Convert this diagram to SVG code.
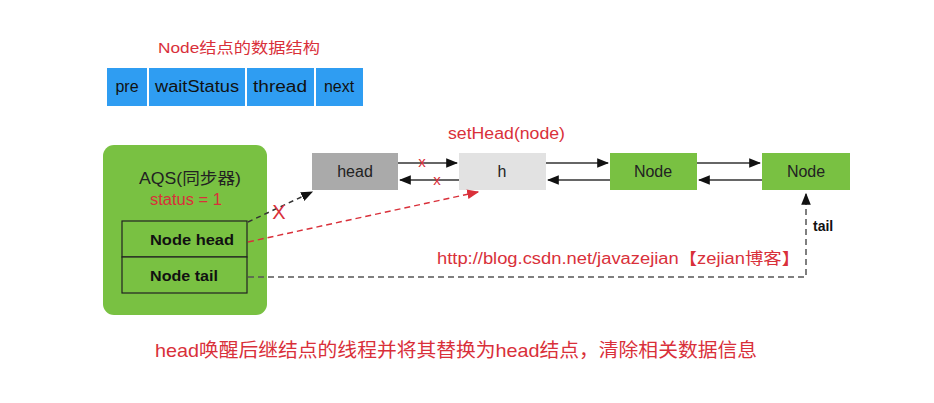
<svg xmlns="http://www.w3.org/2000/svg" width="934" height="403" viewBox="0 0 934 403">
<style>
text{font-family:"Liberation Sans","Noto Sans CJK SC",sans-serif}
.cell{fill:#2f9df2}
.ct{font-size:16px;fill:#111;text-anchor:middle}
.red{fill:#d9303a}
.nt{font-size:16px;fill:#222;text-anchor:middle}
.ln{stroke:#333;stroke-width:1.5;fill:none}
</style>
<defs>
<marker id="a" viewBox="0 0 10 10" refX="9" refY="5" markerWidth="8" markerHeight="8" orient="auto-start-reverse"><path d="M0,1 L10,5 L0,9 z" fill="#111"/></marker>
<marker id="ar" viewBox="0 0 10 10" refX="9" refY="5" markerWidth="8" markerHeight="8" orient="auto"><path d="M0,1 L10,5 L0,9 z" fill="#d9303a"/></marker>
</defs>
<rect width="934" height="403" fill="#fff"/>
<text x="158" y="53" font-size="15" textLength="162" lengthAdjust="spacingAndGlyphs" class="red">Node结点的数据结构</text>
<g id="struct">
<rect class="cell" x="107" y="68" width="40" height="38"/>
<rect class="cell" x="149" y="68" width="96" height="38"/>
<rect class="cell" x="247" y="68" width="67" height="38"/>
<rect class="cell" x="316" y="68" width="47" height="38"/>
<text class="ct" x="127" y="92">pre</text>
<text class="ct" x="197" y="92" textLength="84" lengthAdjust="spacingAndGlyphs">waitStatus</text>
<text class="ct" x="280" y="92" textLength="54" lengthAdjust="spacingAndGlyphs">thread</text>
<text class="ct" x="339" y="92">next</text>
</g>
<g id="aqs">
<rect x="103" y="145" width="164" height="170" rx="11" fill="#79c142"/>
<text x="139" y="184" font-size="16" textLength="102" lengthAdjust="spacingAndGlyphs" fill="#222">AQS(同步器)</text>
<text x="150" y="205" font-size="16" textLength="72" lengthAdjust="spacingAndGlyphs" class="red">status = 1</text>
<rect x="122" y="221" width="125" height="36" fill="#79c142" stroke="#222" stroke-width="1.2"/>
<rect x="122" y="257" width="125" height="36" fill="#79c142" stroke="#222" stroke-width="1.2"/>
<text x="150" y="245" font-size="15" font-weight="bold" fill="#111" textLength="84" lengthAdjust="spacingAndGlyphs">Node head</text>
<text x="150" y="281" font-size="15" font-weight="bold" fill="#111" textLength="68" lengthAdjust="spacingAndGlyphs">Node tail</text>
</g>
<g id="headnode"><rect x="312" y="153" width="86" height="37" fill="#aaaaaa"/><text class="nt" x="355" y="177">head</text></g>
<g id="h"><rect x="459" y="153" width="87" height="37" fill="#e2e2e2"/><text class="nt" x="502" y="177">h</text></g>
<g id="node1"><rect x="610" y="153" width="87" height="37" fill="#79c142"/><text class="nt" x="653" y="177">Node</text></g>
<g id="node2"><rect x="762" y="153" width="88" height="37" fill="#79c142"/><text class="nt" x="806" y="177">Node</text></g>
<text x="448" y="139" font-size="16" textLength="117" lengthAdjust="spacingAndGlyphs" class="red">setHead(node)</text>
<g id="connectors">
<line class="ln" x1="398" y1="163" x2="457" y2="163" marker-end="url(#a)"/>
<line class="ln" x1="459" y1="180" x2="400" y2="180" marker-end="url(#a)"/>
<line class="ln" x1="546" y1="163" x2="608" y2="163" marker-end="url(#a)"/>
<line class="ln" x1="610" y1="180" x2="548" y2="180" marker-end="url(#a)"/>
<line class="ln" x1="697" y1="163" x2="760" y2="163" marker-end="url(#a)"/>
<line class="ln" x1="762" y1="180" x2="699" y2="180" marker-end="url(#a)"/>
<line x1="248" y1="222" x2="312" y2="192" stroke="#333" stroke-width="1.5" stroke-dasharray="5,4" marker-end="url(#a)"/>
<line x1="248" y1="242" x2="478" y2="192" stroke="#d9303a" stroke-width="1.5" stroke-dasharray="6,4" marker-end="url(#ar)"/>
<polyline points="248,277 806,277 806,194" fill="none" stroke="#555" stroke-width="1.5" stroke-dasharray="6,4" marker-end="url(#a)"/>
</g>
<text x="422" y="167" font-size="15" text-anchor="middle" class="red">x</text>
<text x="437" y="185" font-size="15" text-anchor="middle" class="red">x</text>
<text x="279" y="219" font-size="20" text-anchor="middle" class="red">X</text>
<text x="813" y="231" font-size="14" font-weight="bold" fill="#111">tail</text>
<text x="437" y="264" font-size="16" textLength="363" lengthAdjust="spacingAndGlyphs" class="red">http://blog.csdn.net/javazejian【zejian博客】</text>
<text x="155" y="357" font-size="19" textLength="602" lengthAdjust="spacingAndGlyphs" class="red">head唤醒后继结点的线程并将其替换为head结点，清除相关数据信息</text>
</svg>
